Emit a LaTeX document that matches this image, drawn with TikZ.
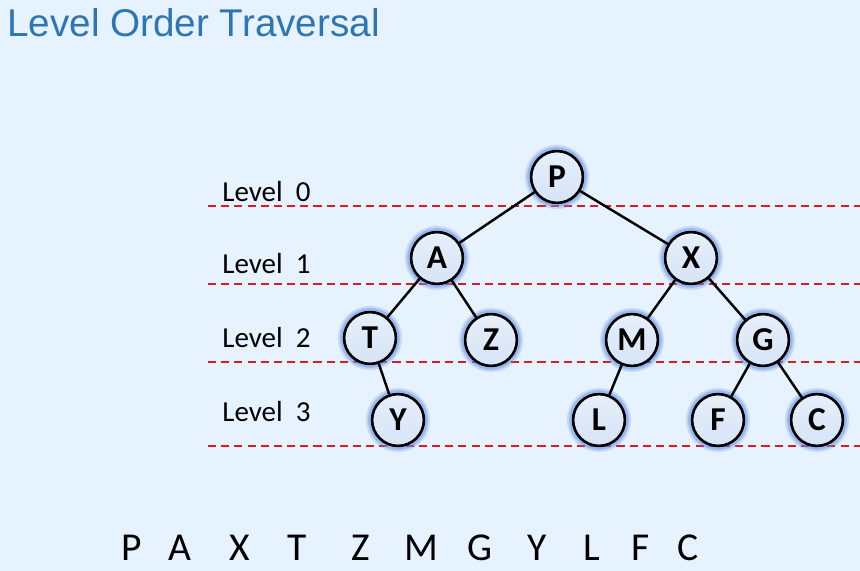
\documentclass[tikz,border=0pt]{standalone}
\usepackage{fontspec}
\setmainfont{Carlito}
\newfontfamily\titlefont{Liberation Sans}
\usepackage{tikz}
\usetikzlibrary{backgrounds}
\usetikzlibrary{scopes}

\definecolor{slidebg}{RGB}{230,242,253}
\definecolor{titleblue}{RGB}{46,117,182}
\definecolor{levelred}{RGB}{214,28,40}
\definecolor{nodefill}{RGB}{214,228,247}
\definecolor{glowblue}{RGB}{100,145,232}

\tikzset{
  treenode/.style={circle, draw=black, line width=1.5pt, top color=nodefill!60!white, bottom color=nodefill,
    minimum size=29.5pt, inner sep=0pt, font=\fontsize{19}{21}\selectfont\bfseries,
    preaction={draw=glowblue, line width=7pt, opacity=0.25},
    preaction={draw=glowblue, line width=4.5pt, opacity=0.45}},
  treeedge/.style={line width=1.4pt},
  levelline/.style={levelred, dashed, line width=1.1pt, dash pattern=on 4.6pt off 2.9pt},
  levellabel/.style={anchor=base west, inner sep=0pt, font=\fontsize{16.5}{18}\selectfont},
  visit/.style={anchor=base, inner sep=0pt, font=\fontsize{22.5}{24}\selectfont}
}

\begin{document}
\begin{tikzpicture}[x=0.02cm, y=-0.02cm]
\fill[slidebg] (0, 0) rectangle (860, 571);
\useasboundingbox (0, 0) rectangle (860, 571);
\node[anchor=base west, inner sep=0pt, text=titleblue, font=\titlefont\fontsize{22}{24}\selectfont] (title) at (7, 37) {Level Order Traversal};

\draw[levelline] (208, 206) -- (860, 206);
\draw[levelline] (208, 284) -- (860, 284);
\draw[levelline] (208, 362) -- (860, 362);
\draw[levelline] (208, 446) -- (860, 446);
\node[levellabel] (lev0) at (222, 201.5) {Level\ \ 0};
\node[levellabel] (lev1) at (222, 274) {Level\ \ 1};
\node[levellabel] (lev2) at (222, 347.5) {Level\ \ 2};
\node[levellabel] (lev3) at (222, 421.5) {Level\ \ 3};

\node[treenode] (P) at (557, 177) {P};
\node[treenode] (A) at (437, 258) {A};
\node[treenode] (X) at (691, 258) {X};
\node[treenode] (T) at (370, 338) {T};
\node[treenode] (Z) at (491, 340) {Z};
\node[treenode] (M) at (632, 340) {M};
\node[treenode] (G) at (763, 340) {G};
\node[treenode] (Y) at (398, 420) {Y};
\node[treenode] (L) at (599, 420) {L};
\node[treenode] (F) at (718, 420) {F};
\node[treenode] (C) at (817, 420) {C};
\draw[treeedge] (P) -- (A);
\draw[treeedge] (P) -- (X);
\draw[treeedge] (A) -- (T);
\draw[treeedge] (A) -- (Z);
\draw[treeedge] (X) -- (M);
\draw[treeedge] (X) -- (G);
\draw[treeedge] (T) -- (Y);
\draw[treeedge] (M) -- (L);
\draw[treeedge] (G) -- (F);
\draw[treeedge] (G) -- (C);

\node[visit] (v1) at (132, 561) {P};
\node[visit] (v2) at (180, 561) {A};
\node[visit] (v3) at (240, 561) {X};
\node[visit] (v4) at (297, 561) {T};
\node[visit] (v5) at (361, 561) {Z};
\node[visit] (v6) at (421, 561) {M};
\node[visit] (v7) at (480, 561) {G};
\node[visit] (v8) at (537, 561) {Y};
\node[visit] (v9) at (592, 561) {L};
\node[visit] (v10) at (641, 561) {F};
\node[visit] (v11) at (688, 561) {C};
\end{tikzpicture}
\end{document}
